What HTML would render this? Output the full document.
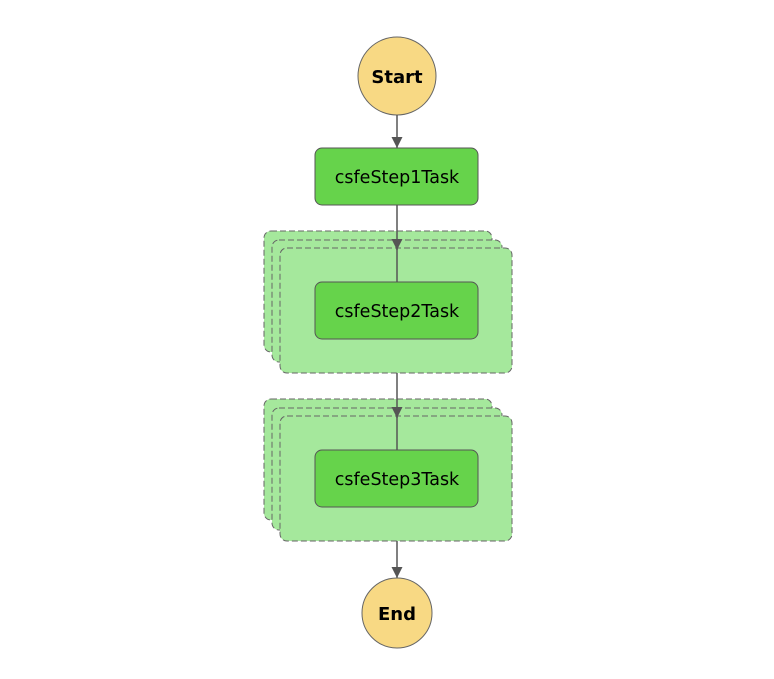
<!DOCTYPE html>
<html><head><style>body{margin:0;background:#fff}</style></head><body>
<svg width="774" height="674" xmlns="http://www.w3.org/2000/svg" font-family="'DejaVu Sans','Liberation Sans',sans-serif">
<defs><marker id="a" markerWidth="11" markerHeight="11" refX="11" refY="5.5" orient="auto" markerUnits="userSpaceOnUse"><path d="M0,0 L11,5.5 L0,11 Z" fill="#555"/></marker></defs>
<circle cx="397" cy="76" r="39" fill="#f8d984" stroke="#666"/>
<text x="397" y="83" text-anchor="middle" font-size="18" font-weight="bold">Start</text>
<line x1="397" y1="115" x2="397" y2="148" stroke="#555" stroke-width="1.5" marker-end="url(#a)"/>
<rect x="315" y="148" width="163" height="57" rx="7" fill="#66d34b" stroke="#555"/>
<text x="397" y="183" text-anchor="middle" font-size="17.5">csfeStep1Task</text>
<g fill="#a5e89c" stroke="#666" stroke-dasharray="6,3">
<rect x="264" y="231" width="228" height="121" rx="7"/>
<rect x="272" y="240" width="230" height="122" rx="7"/>
<rect x="280" y="248" width="232" height="125" rx="7"/>
<rect x="264" y="399" width="228" height="121" rx="7"/>
<rect x="272" y="408" width="230" height="122" rx="7"/>
<rect x="280" y="416" width="232" height="125" rx="7"/>
</g>
<line x1="397" y1="205" x2="397" y2="250" stroke="#555" stroke-width="1.5" marker-end="url(#a)"/>
<line x1="397" y1="248" x2="397" y2="282" stroke="#555" stroke-width="1.5"/>
<rect x="315" y="282" width="163" height="57" rx="7" fill="#66d34b" stroke="#555"/>
<text x="397" y="317" text-anchor="middle" font-size="17.5">csfeStep2Task</text>
<line x1="397" y1="373" x2="397" y2="418" stroke="#555" stroke-width="1.5" marker-end="url(#a)"/>
<line x1="397" y1="416" x2="397" y2="450" stroke="#555" stroke-width="1.5"/>
<rect x="315" y="450" width="163" height="57" rx="7" fill="#66d34b" stroke="#555"/>
<text x="397" y="485" text-anchor="middle" font-size="17.5">csfeStep3Task</text>
<line x1="397" y1="541" x2="397" y2="578" stroke="#555" stroke-width="1.5" marker-end="url(#a)"/>
<circle cx="397" cy="613" r="35" fill="#f8d984" stroke="#666"/>
<text x="397" y="620" text-anchor="middle" font-size="18" font-weight="bold">End</text>
</svg>
</body></html>
